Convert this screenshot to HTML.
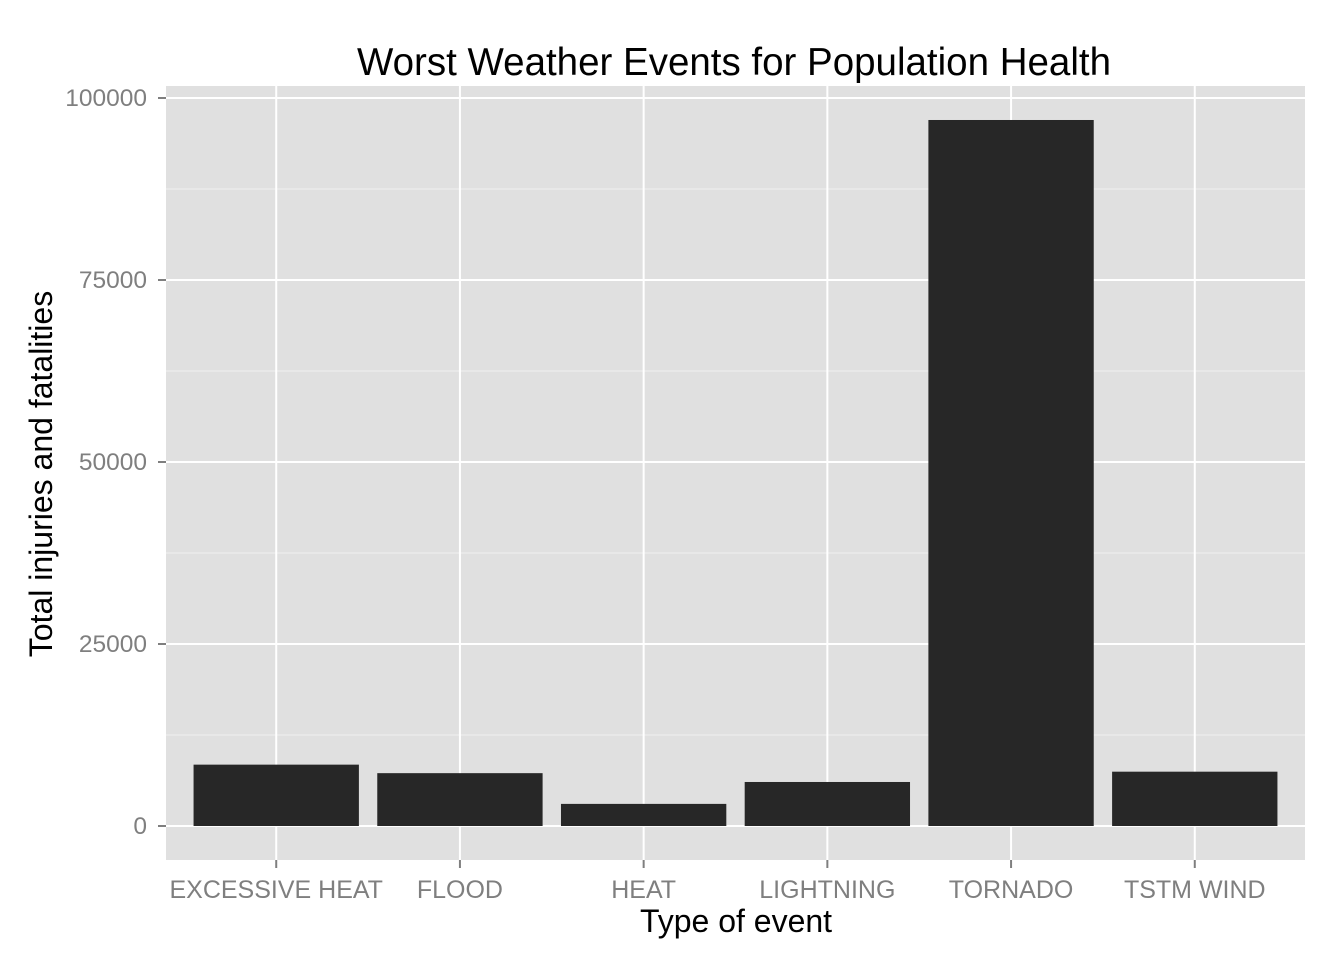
<!DOCTYPE html>
<html><head><meta charset="utf-8"><style>body{margin:0;background:#fff}svg{display:block;font-family:"Liberation Sans",Arial,sans-serif}</style></head>
<body>
<svg id="chart" width="1344" height="960">
<rect width="1344" height="960" fill="#fff"/>
<text x="734" y="75" font-size="38.5" text-anchor="middle" fill="#000">Worst Weather Events for Population Health</text>
<text x="736" y="932" font-size="32" text-anchor="middle" fill="#000">Type of event</text>
<text transform="translate(52,474) rotate(-90)" font-size="32" text-anchor="middle" fill="#000">Total injuries and fatalities</text>
<g id="plot"></g>
</svg>
<script>
const categories = ["EXCESSIVE HEAT","FLOOD","HEAT","LIGHTNING","TORNADO","TSTM WIND"];
const values = [8428,7259,3037,6046,96979,7461];
const yTicks = [0,25000,50000,75000,100000];
const yTickLabels = ["0","25000","50000","75000","100000"];
const NS="http://www.w3.org/2000/svg";
const L=166,R=1305,T=86,B=860;
const y=v=>826-v*(826-98)/100000;
const band=(R-L)/6.2;
const x=i=>L+band*(0.6+i);
const g=document.getElementById('plot');
function mk(t,a,p){const e=document.createElementNS(NS,t);for(const k in a)e.setAttribute(k,a[k]);(p||g).appendChild(e);return e;}
const bg=mk('rect',{x:L,y:T,width:R-L,height:B-T,fill:'#e0e0e0'});


for(let i=0;i<yTicks.length-1;i++){const m=(yTicks[i]+yTicks[i+1])/2;mk('line',{x1:L,x2:R,y1:y(m),y2:y(m),stroke:'#f0f0f0','stroke-width':1});}
yTicks.forEach((v,i)=>{
 mk('line',{x1:L,x2:R,y1:y(v),y2:y(v),stroke:'#fff','stroke-width':2});
 mk('line',{x1:158,x2:166,y1:y(v),y2:y(v),stroke:'#7f7f7f','stroke-width':2});
 const t=mk('text',{x:147,y:y(v)+8,'font-size':24.5,'text-anchor':'end',fill:'#7f7f7f'});t.textContent=yTickLabels[i];
 
 
});
categories.forEach((c,i)=>{
 mk('line',{x1:x(i),x2:x(i),y1:T,y2:B,stroke:'#fff','stroke-width':2});
 mk('line',{x1:x(i),x2:x(i),y1:B,y2:B+8,stroke:'#7f7f7f','stroke-width':2});
 const t=mk('text',{x:x(i),y:898,'font-size':25,'text-anchor':'middle',fill:'#7f7f7f'});t.textContent=c;
 
 
});
values.forEach((v,i)=>{
 const w=band*0.9;
 const r=mk('rect',{x:x(i)-w/2,y:y(v),width:w,height:y(0)-y(v),fill:'#272727'});
 
 
});
</script>
</body></html>
